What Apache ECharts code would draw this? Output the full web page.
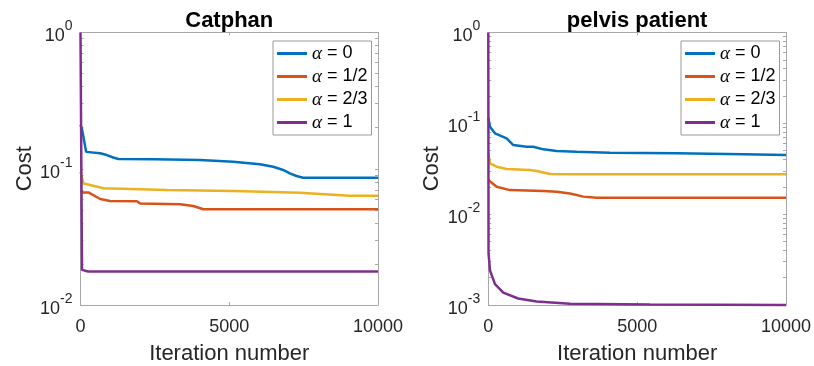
<!DOCTYPE html>
<html>
<head>
<meta charset="utf-8">
<script src="https://cdn.jsdelivr.net/npm/echarts@6/dist/echarts.min.js"></script>
<style>
  html, body { margin: 0; padding: 0; background: #fff; }
  #chart { width: 814px; height: 366px; }
</style>
</head>
<body>
<div id="chart"></div>
<script>
// Convergence of the cost function for different alpha values
const seriesNames = ['α = 0', 'α = 1/2', 'α = 2/3', 'α = 1'];
const lineColors = ['#0072BD', '#D95319', '#EDB120', '#7E2F8E'];
const panelTitles = ['Catphan', 'pelvis patient'];
const xTickValues = [0, 5000, 10000];
const catphanYTicks = [0.01, 0.1, 1];
const pelvisYTicks = [0.001, 0.01, 0.1, 1];

// Catphan: [iteration, cost]
const catphanAlpha0 = [[0, 0.21], [45, 0.198], [190, 0.133], [660, 0.130], [884, 0.126], [1100, 0.121], [1275, 0.118], [2500, 0.1173], [4016, 0.1159], [5134, 0.1127], [6029, 0.1078], [6477, 0.1035], [6812, 0.098], [7036, 0.0925], [7260, 0.0885], [7483, 0.0859], [10000, 0.0859]];
const catphanAlpha12 = [[0, 0.069], [80, 0.067], [268, 0.067], [660, 0.060], [996, 0.058], [1890, 0.0577], [2002, 0.0557], [3345, 0.0548], [3792, 0.0533], [4128, 0.0504], [10000, 0.0504]];
const catphanAlpha23 = [[0, 0.095], [100, 0.078], [500, 0.0745], [772, 0.072], [2897, 0.0698], [5134, 0.0687], [7371, 0.0667], [9049, 0.0634], [10000, 0.0634]];
const catphanAlpha1 = [[0, 1], [50, 0.0181], [250, 0.0176], [10000, 0.0176]];

// pelvis patient: [iteration, cost]
const pelvisAlpha0 = [[0, 0.115], [22, 0.1135], [56, 0.0918], [224, 0.0777], [616, 0.0684], [840, 0.0577], [1288, 0.0553], [1512, 0.0553], [1848, 0.0517], [2296, 0.0496], [2968, 0.0487], [4087, 0.0475], [6327, 0.0468], [8567, 0.0456], [10000, 0.0448]];
const pelvisAlpha12 = [[0, 0.0238], [56, 0.023], [280, 0.020], [728, 0.0184], [1848, 0.018], [2296, 0.0177], [2744, 0.0169], [3191, 0.0156], [3639, 0.0152], [10000, 0.0152]];
const pelvisAlpha23 = [[0, 0.047], [56, 0.0363], [280, 0.0333], [616, 0.0314], [1400, 0.0306], [1624, 0.0299], [2072, 0.0277], [2968, 0.0275], [10000, 0.0275]];
const pelvisAlpha1 = [[0, 1], [8, 0.0037], [57, 0.0024], [225, 0.0017], [504, 0.00137], [1000, 0.00118], [1626, 0.00109], [2744, 0.00103], [5430, 0.00101], [10000, 0.001]];

const panelData = [
  [catphanAlpha0, catphanAlpha12, catphanAlpha23, catphanAlpha1],
  [pelvisAlpha0, pelvisAlpha12, pelvisAlpha23, pelvisAlpha1]
];
const panelYTicks = [catphanYTicks, pelvisYTicks];

const SANS = 'Liberation Sans, Arial, sans-serif';
const SERIF = 'Liberation Serif, Times New Roman, serif';
const AXIS_GREY = '#a8a8a8';
const TEXT_COLOR = '#262626';

// minor log ticks (2..9 of each decade) inside the axis range
function logMinorTicks(majors) {
  const out = [];
  for (let i = 0; i < majors.length - 1; i++) {
    for (let k = 2; k <= 9; k++) out.push(+(majors[i] * k).toPrecision(6));
  }
  return out.concat(majors);
}

const grids = [
  { left: 80.5, top: 32.5, width: 297.5, height: 272.5, outerBoundsMode: 'none', containLabel: false },
  { left: 488.3, top: 32.5, width: 297.7, height: 272.5, outerBoundsMode: 'none', containLabel: false }
];

const xAxes = [];
const yAxes = [];
const series = [];
const legends = [];
const legendLeft = [273, 681];

grids.forEach((g, p) => {
  const lineStyle = { color: AXIS_GREY, width: 1 };
  xAxes.push({
    type: 'value', gridIndex: p, position: 'bottom', min: 0, max: 10000, interval: 5000,
    axisLine: { show: true, onZero: false, lineStyle },
    axisTick: { show: true, inside: true, length: 3, lineStyle },
    splitLine: { show: false },
    axisLabel: {
      customValues: xTickValues, margin: 13, color: TEXT_COLOR, fontSize: 18, fontFamily: SANS,
      formatter: v => String(v)
    },
    name: 'Iteration number', nameLocation: 'middle', nameGap: 38,
    nameTextStyle: { fontSize: 22, color: TEXT_COLOR, fontFamily: SANS }
  });
  xAxes.push({
    type: 'value', gridIndex: p, position: 'top', min: 0, max: 10000, interval: 5000,
    axisLine: { show: true, onZero: false, lineStyle },
    axisTick: { show: true, inside: true, length: 3, lineStyle },
    splitLine: { show: false },
    axisLabel: { show: false },
    name: panelTitles[p], nameLocation: 'middle', nameGap: 1,
    nameTextStyle: { fontSize: 22, fontWeight: 'bold', color: '#000', fontFamily: SANS }
  });
  const majors = panelYTicks[p];
  const ticks = logMinorTicks(majors);
  const yBase = {
    type: 'log', logBase: 10, gridIndex: p,
    min: majors[0], max: majors[majors.length - 1],
    axisLine: { show: true, onZero: false, lineStyle },
    splitLine: { show: false },
    minorTick: { show: false }
  };
  yAxes.push(Object.assign({}, yBase, {
    position: 'left',
    axisTick: { show: true, inside: true, length: 3, lineStyle, customValues: ticks },
    axisLabel: {
      customValues: majors, margin: 8,
      formatter: v => '{b|10}{s|' + Math.round(Math.log10(v)) + '}',
      rich: {
        b: { fontSize: 18, fontFamily: SANS, color: TEXT_COLOR, verticalAlign: 'bottom', lineHeight: 26 },
        s: { fontSize: 14, fontFamily: SANS, color: TEXT_COLOR, verticalAlign: 'top', lineHeight: 26 }
      }
    },
    name: 'Cost', nameLocation: 'middle', nameGap: 45, nameRotate: 90,
    nameTextStyle: { fontSize: 22, color: TEXT_COLOR, fontFamily: SANS }
  }));
  yAxes.push(Object.assign({}, yBase, {
    position: 'right',
    axisTick: { show: true, inside: true, length: 3, lineStyle, customValues: ticks },
    axisLabel: { show: false }
  }));

  panelData[p].forEach((pts, i) => {
    series.push({
      name: seriesNames[i], type: 'line',
      xAxisIndex: p * 2, yAxisIndex: p * 2,
      data: pts, showSymbol: false, symbol: 'none', clip: false,
      lineStyle: { color: lineColors[i], width: 2.5 },
      itemStyle: { color: lineColors[i] },
      emphasis: { disabled: true }, silent: true
    });
  });

  legends.push({
    orient: 'vertical', left: legendLeft[p], top: 41,
    data: seriesNames, icon: 'rect', itemWidth: 30, itemHeight: 3, itemGap: 4,
    padding: [3, 4, 3, 4], borderColor: '#9a9a9a', borderWidth: 1, backgroundColor: '#fff',
    selectedMode: false,
    formatter: n => '{a|α}{b|' + n.slice(1) + '}',
    textStyle: {
      lineHeight: 19,
      rich: {
        a: { fontFamily: SERIF, fontStyle: 'italic', fontSize: 19, color: '#000', lineHeight: 19 },
        b: { fontFamily: SANS, fontSize: 18, color: '#000', lineHeight: 19 }
      }
    }
  });
});

const chart = echarts.init(document.getElementById('chart'), null, { renderer: 'canvas' });
chart.setOption({
  animation: false,
  backgroundColor: '#fff',
  grid: grids,
  xAxis: xAxes,
  yAxis: yAxes,
  legend: legends,
  series: series
});
</script>
</body>
</html>
